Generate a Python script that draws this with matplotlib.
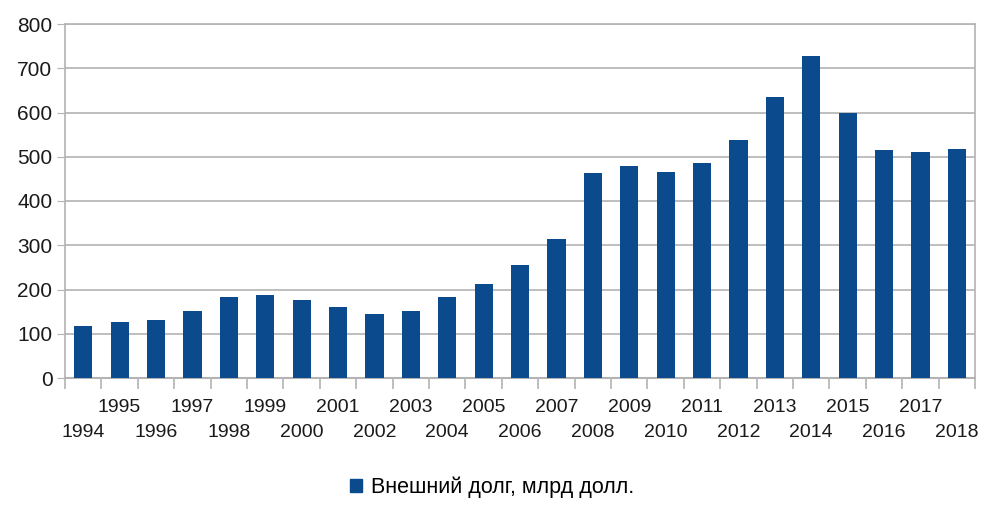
import numpy as np
import matplotlib.pyplot as plt
from matplotlib.patches import Patch

years = list(range(1994, 2019))
debt = [117, 126, 131, 152, 182, 188, 177, 160, 145, 151, 184, 212, 255, 313,
        463, 478, 466, 487, 538, 636, 727, 598, 516, 510, 518]
series_label = 'Внешний долг, млрд долл.'

bar_color = '#0b4a8c'
grid_color = '#b3b3b3'

plt.rcParams['font.family'] = ['Liberation Sans', 'DejaVu Sans']

fig = plt.figure(figsize=(9.81, 5.18), dpi=100)
ax = fig.add_axes([65 / 981, 1 - 378 / 518, 910 / 981, 354 / 518])

x = np.arange(len(years))
ax.bar(x, debt, width=0.5, color=bar_color, zorder=3)

ax.set_xlim(-0.5, len(years) - 0.5)
ax.set_ylim(0, 800)
ax.set_yticks(range(0, 801, 100))
ax.yaxis.grid(True, color=grid_color, linewidth=1.2, zorder=0)
ax.tick_params(axis='y', labelsize=15, length=6, color=grid_color, pad=3,
               labelcolor='#1a1a1a')

# category boundary ticks, labels staggered over two rows
ax.set_xticks(np.arange(-0.5, len(years) + 0.5, 1.0))
ax.set_xticklabels([])
ax.tick_params(axis='x', length=8, color=grid_color, width=1.2)
for i, yr in enumerate(years):
    row = 1 if i % 2 == 0 else 0
    ax.annotate(str(yr), (i, 0), xycoords=('data', 'axes fraction'),
                xytext=(0, -21 - 18 * row), textcoords='offset points',
                ha='center', va='center', fontsize=14, color='#1a1a1a',
                annotation_clip=False)

for s in ax.spines.values():
    s.set_color(grid_color)
    s.set_linewidth(1.2)
ax.spines['bottom'].set_linewidth(1.5)

fig.legend(handles=[Patch(color=bar_color, label=series_label)],
           loc='center', bbox_to_anchor=(492 / 981, 1 - 487 / 518),
           frameon=False, fontsize=15.5, handlelength=0.55, handleheight=0.55,
           handletextpad=0.4)

fig.savefig('out.png', dpi=100)
